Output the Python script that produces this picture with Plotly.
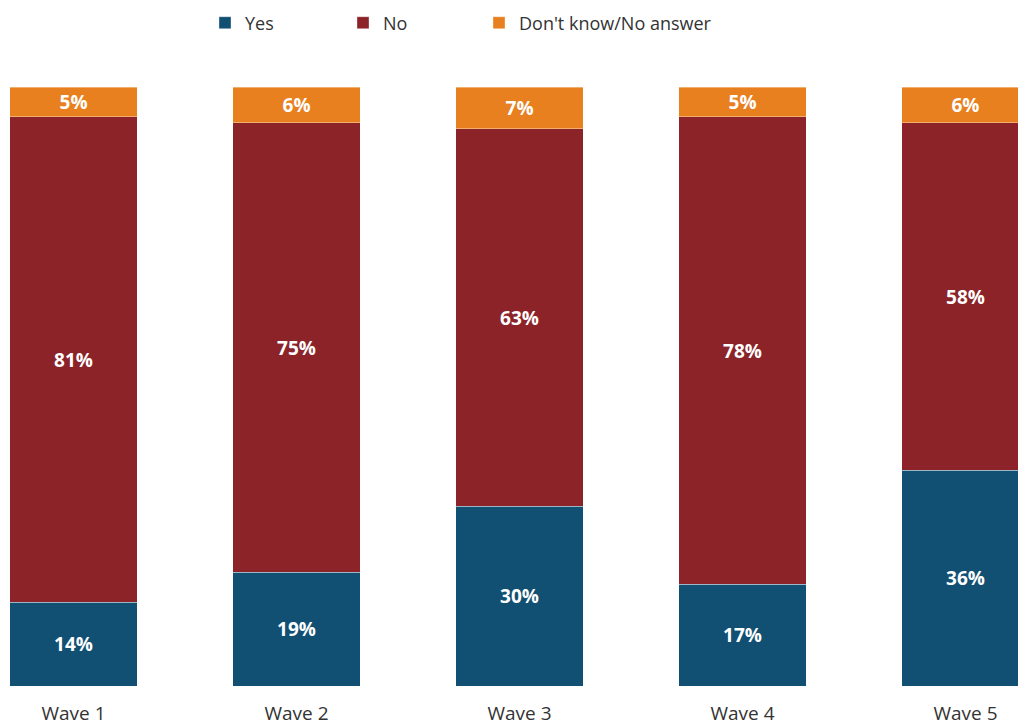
import plotly.graph_objects as go

# Survey responses by wave (percent of respondents)
waves = ["Wave 1", "Wave 2", "Wave 3", "Wave 4", "Wave 5"]
yes = [14, 19, 30, 17, 36]
no = [81, 75, 63, 78, 58]
dont_know = [5, 6, 7, 5, 6]

series = [
    ("Yes", yes, "#114F73"),
    ("No", no, "#8B2329"),
    ("Don't know/No answer", dont_know, "#E8801F"),
]

FONT = "Open Sans"
W, H = 1018, 726
xpos = list(range(len(waves)))

# each series gets its own legend box so the entries can be spaced freely
legend_ids = ["legend", "legend2", "legend3"]
legend_left_px = [205, 343, 479]

fig = go.Figure()
for (name, vals, color), lid in zip(series, legend_ids):
    fig.add_trace(go.Bar(
        name=name,
        x=xpos,
        y=vals,
        width=0.57,
        legend=lid,
        marker=dict(color=color, line=dict(color="rgba(255,255,255,0.45)", width=0.8)),
        text=[f"{v}%" for v in vals],
        textposition="inside",
        insidetextanchor="middle",
        textangle=0,
        constraintext="none",
        textfont=dict(family=FONT, size=19, color="white", weight="bold"),
    ))

legend_style = dict(
    orientation="h",
    xanchor="left",
    yref="container",
    y=1 - 23 / H,
    yanchor="middle",
    font=dict(family=FONT, size=18, color="#333333"),
    bgcolor="rgba(0,0,0,0)",
)
legend_layout = {
    lid: dict(legend_style, x=px / W) for lid, px in zip(legend_ids, legend_left_px)
}

# 223 px per category, first category centred at 73.5 px
px_per_unit = 223.0
left = -73.5 / px_per_unit
right = (W - 73.5) / px_per_unit

fig.update_layout(
    barmode="stack",
    width=W,
    height=H,
    margin=dict(l=0, r=0, t=87, b=40, autoexpand=False),
    plot_bgcolor="white",
    paper_bgcolor="white",
    showlegend=True,
    xaxis=dict(
        range=[left, right],
        tickvals=xpos,
        ticktext=waves,
        showgrid=False,
        zeroline=False,
        showline=False,
        ticks="outside",
        ticklen=10,
        tickcolor="rgba(0,0,0,0)",
        tickfont=dict(family=FONT, size=19, color="#333333"),
    ),
    yaxis=dict(
        range=[0, 100],
        visible=False,
        showgrid=False,
        zeroline=False,
    ),
    **legend_layout,
)

fig.write_html("out.html")
